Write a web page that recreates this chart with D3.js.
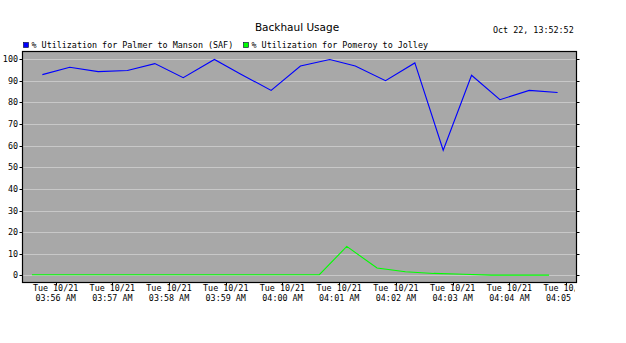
<!DOCTYPE html>
<html>
<head>
<meta charset="utf-8">
<script src="https://cdn.jsdelivr.net/npm/d3@7"></script>
<style>
  body { margin: 0; background: #fff; }
  svg text { font-family: "DejaVu Sans Mono", monospace; font-size: 8.4px; fill: #000; }
  svg .title { font-family: "DejaVu Sans", sans-serif; font-size: 10.5px; }
</style>
</head>
<body>
<svg width="626" height="343"></svg>
<script>
var day = "2014-10-21T";

// blue series: % Utilization for Palmer to Manson (SAF)
var palmerTimes = ["03:55:46","03:56:15","03:56:45","03:57:16","03:57:45","03:58:15","03:58:48",
    "03:59:16","03:59:48","04:00:19","04:00:50","04:01:17","04:01:49","04:02:20","04:02:50",
    "04:03:20","04:03:50","04:04:21","04:04:51"];
var palmerValues = [92.9, 96.3, 94.3, 94.8, 98.0, 91.5, 99.9, 93.1, 85.6, 96.9, 99.9, 96.9,
    90.1, 98.3, 57.9, 92.6, 81.3, 85.6, 84.6];

// green series: % Utilization for Pomeroy to Jolley
var pomeroyTimes = ["03:55:35","03:56:05","03:56:36","03:57:06","03:57:37","03:58:07","03:58:37",
    "03:59:08","03:59:38","04:00:08","04:00:39","04:01:08","04:01:40","04:02:10","04:02:40",
    "04:03:11","04:03:41","04:04:11","04:04:42"];
var pomeroyValues = [0.3, 0.3, 0.3, 0.3, 0.3, 0.3, 0.3, 0.3, 0.3, 0.3, 0.3, 13.4, 3.4, 1.7,
    0.9, 0.5, 0.1, 0.1, 0.1];

var yTicks = [0, 10, 20, 30, 40, 50, 60, 70, 80, 90, 100];
var legendNames = ["% Utilization for Palmer to Manson (SAF)", "% Utilization for Pomeroy to Jolley"];
var seriesColors = ["#0000ff", "#00ff00"];
var chartTitle = "Backhaul Usage";
var stamp = "Oct 22, 13:52:52";

var svg = d3.select("svg");
var pl = 22.5, pr = 576.5, pt = 51.5, pb = 282.5;

var x = d3.scaleTime()
    .domain([new Date(day + "03:55:25"), new Date(day + "04:05:11")])
    .range([pl, pr]);
var y = d3.scaleLinear().domain([-3.3, 103.6]).range([pb, pt]);

function toPoints(times, values) {
    return times.map(function(t, i) { return {t: new Date(day + t), v: values[i]}; });
}

// plot background
svg.append("rect")
    .attr("x", pl).attr("y", pt)
    .attr("width", pr - pl).attr("height", pb - pt)
    .attr("fill", "#a8a8a8");

// horizontal grid
svg.append("g").selectAll("line").data(yTicks).join("line")
    .attr("x1", pl).attr("x2", pr)
    .attr("y1", function(d) { return Math.round(y(d)) + 0.5; })
    .attr("y2", function(d) { return Math.round(y(d)) + 0.5; })
    .attr("stroke", "#c8c8c8").attr("stroke-width", 1);

// lines
var line = d3.line().x(function(d) { return x(d.t); }).y(function(d) { return y(d.v); });
svg.append("path").datum(toPoints(pomeroyTimes, pomeroyValues))
    .attr("d", line).attr("fill", "none")
    .attr("stroke", seriesColors[1]).attr("stroke-width", 1.1);
svg.append("path").datum(toPoints(palmerTimes, palmerValues))
    .attr("d", line).attr("fill", "none")
    .attr("stroke", seriesColors[0]).attr("stroke-width", 1.1);

// frame
svg.append("rect")
    .attr("x", pl).attr("y", pt)
    .attr("width", pr - pl).attr("height", pb - pt)
    .attr("fill", "none").attr("stroke", "#000").attr("stroke-width", 1.2);

// y axis left: labels + tiny ticks
var yl = svg.append("g").selectAll("g").data(yTicks).join("g");
yl.append("line")
    .attr("x1", pl - 3).attr("x2", pl)
    .attr("y1", function(d) { return Math.round(y(d)) + 0.5; })
    .attr("y2", function(d) { return Math.round(y(d)) + 0.5; })
    .attr("stroke", "#000");
yl.append("text")
    .attr("x", 18).attr("y", function(d) { return y(d) + 3; })
    .style("text-anchor", "end")
    .text(function(d) { return d; });

// y axis right ticks
svg.append("g").selectAll("line").data(yTicks).join("line")
    .attr("x1", pr).attr("x2", pr + 3)
    .attr("y1", function(d) { return Math.round(y(d)) + 0.5; })
    .attr("y2", function(d) { return Math.round(y(d)) + 0.5; })
    .attr("stroke", "#000");

// x axis ticks and labels (last one is cut at the plot's right edge)
svg.append("clipPath").attr("id", "xclip")
    .append("rect").attr("x", 0).attr("y", pb).attr("width", 575).attr("height", 40);
var xt = x.ticks(d3.timeMinute.every(1));
var fmt1 = d3.timeFormat("%a %m/%d"), fmt2 = d3.timeFormat("%I:%M %p");
var xg = svg.append("g").attr("clip-path", "url(#xclip)").selectAll("g").data(xt).join("g");
xg.append("line")
    .attr("x1", function(d) { return Math.round(x(d)) + 0.5; })
    .attr("x2", function(d) { return Math.round(x(d)) + 0.5; })
    .attr("y1", pb).attr("y2", pb + 3)
    .attr("stroke", "#000");
xg.append("text")
    .attr("x", function(d) { return x(d); }).attr("y", 291)
    .style("text-anchor", "middle").text(fmt1);
xg.append("text")
    .attr("x", function(d) { return x(d); }).attr("y", 301)
    .style("text-anchor", "middle").text(fmt2);

// title and timestamp
svg.append("text").attr("class", "title")
    .attr("x", 297).attr("y", 30.5)
    .style("text-anchor", "middle")
    .text(chartTitle);
svg.append("text")
    .attr("x", 493).attr("y", 32.5)
    .text(stamp);

// legend
var legX = [23.5, 243.5];
legendNames.forEach(function(name, i) {
    svg.append("rect")
        .attr("x", legX[i]).attr("y", 42.5)
        .attr("width", 5).attr("height", 5)
        .attr("fill", seriesColors[i]).attr("stroke", "#003").attr("stroke-width", 0.6);
    svg.append("text")
        .attr("x", legX[i] + 8).attr("y", 47.5)
        .text(name);
});
</script>
</body>
</html>
